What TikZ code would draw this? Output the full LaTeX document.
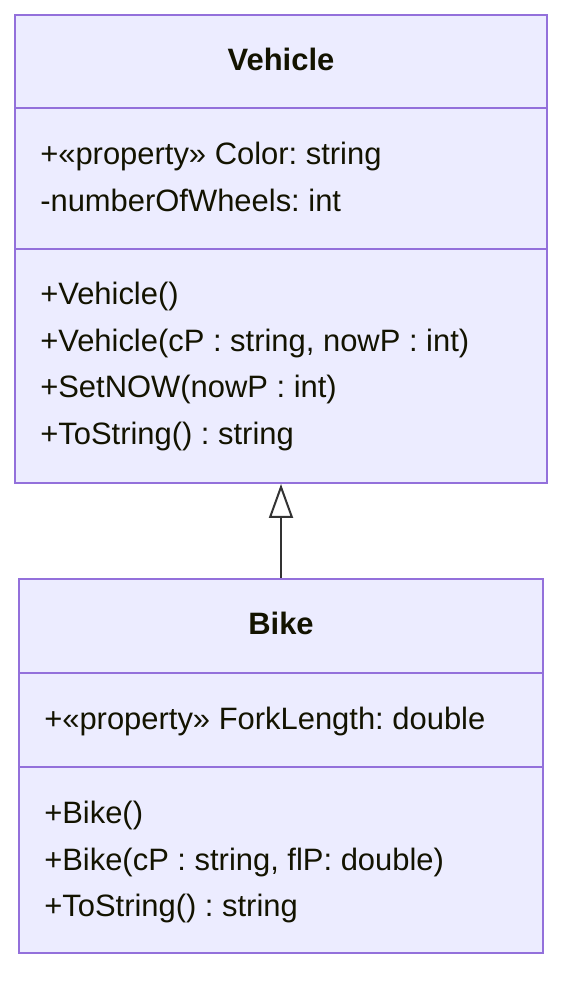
\documentclass[tikz,border=0pt]{standalone}
\usepackage{fontspec}
\setmainfont{Liberation Sans}
\usetikzlibrary{positioning}
\usetikzlibrary{arrows.meta}
\frenchspacing

\definecolor{umlFill}{HTML}{ECECFF}
\definecolor{umlBorder}{HTML}{9370DB}
\definecolor{umlText}{HTML}{131300}
\definecolor{umlLine}{HTML}{333333}

\begin{document}
\begin{tikzpicture}[x=0.75pt, y=0.75pt,
    classbox/.style={draw=umlBorder, fill=umlFill, line width=1.5pt, inner sep=0pt},
    divider/.style={draw=umlBorder, line width=1.5pt},
    member/.style={anchor=base west, inner sep=0pt, text=umlText, font=\fontsize{23.2}{28}\selectfont},
    classname/.style={anchor=base, inner sep=0pt, text=umlText, font=\fontsize{23.2}{28}\selectfont\bfseries},
    inherit/.style={draw=umlLine, line width=1.5pt, -{Triangle[open, length=25.5pt, width=18pt]}}]

    \useasboundingbox (0,0) rectangle (578,996);

    \newcommand{\drawMembers}[4]{
      % #1 = name prefix
      % #2 = left x
      % #3 = first baseline (y)
      % #4 = list of lines
      \foreach \txt [count=\i] in {#4} {
        \node[member] (#1\i) at (#2, {#3 - (\i-1)*46.7}) {\txt};
      }
    }
    \newcommand{\drawDivider}[2]{
      % #1 = class node, #2 = y
      \draw[divider] (#1.west |- 0,#2) -- (#1.east |- 0,#2);
    }

    % Vehicle
    \node[classbox, minimum width=399pt, minimum height=351pt] (Vehicle) at (281,747) {};
    \drawDivider{Vehicle}{888}
    \drawDivider{Vehicle}{747}
    \node[classname] (VehicleName) at (281,925) {Vehicle};
    \drawMembers{vehA}{40}{831.5}{{+«property» Color: string}, {-numberOfWheels: int}}
    \drawMembers{vehM}{40}{691.5}{{+Vehicle()}, {+Vehicle(cP : string, nowP : int)},
      {+SetNOW(nowP : int)}, {+ToString() : string}}

    % Bike
    \node[classbox, minimum width=393pt, minimum height=280.5pt] (Bike) at (281,230) {};
    \drawDivider{Bike}{323}
    \drawDivider{Bike}{229}
    \node[classname] (BikeName) at (281,361) {Bike};
    \drawMembers{bikeA}{44}{266.5}{{+«property» ForkLength: double}}
    \drawMembers{bikeM}{44}{172.5}{{+Bike()}, {+Bike(cP : string, flP: double)},
      {+ToString() : string}}

    % inheritance
    \draw[inherit] (Bike.north) -- (Vehicle.south);

\end{tikzpicture}
\end{document}
